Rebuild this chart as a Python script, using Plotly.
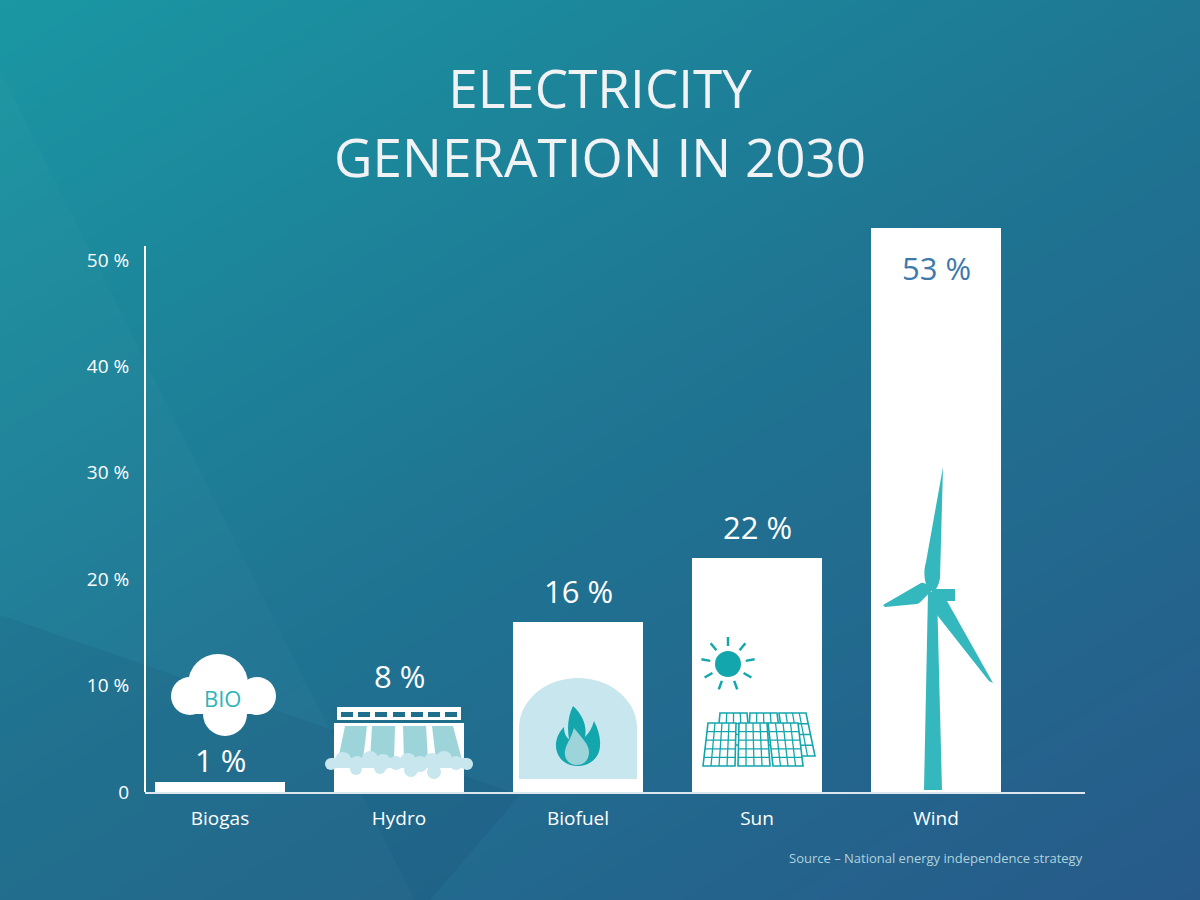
import math
import plotly.graph_objects as go

# data
sources = ["Biogas", "Hydro", "Biofuel", "Sun", "Wind"]
share = [1, 8, 16, 22, 53]
ytick_vals = [0, 10, 20, 30, 40, 50]
ytick_text = ["0", "10 %", "20 %", "30 %", "40 %", "50 %"]

W, H = 1200, 900
FONT = "Open Sans"
TEAL = "#13a6ad"
LIGHT = "#9dd4da"
PALE = "#c8e6ee"
GAPCOL = "#1f6e8c"

# pixel geometry of the plot area (x: category centres 179px apart, y: 10.64px per %)
X0, X1 = 145, 1085
YB = 792
XS, YS = 179.0, 10.64
xr = [-(220 - X0) / XS, (X1 - 220) / XS]
yr = [0, 55]
ytop = YB - yr[1] * YS


def px(i, dx):
    # offset in px from centre of bar i -> x data
    return i + dx / XS


def py(dy):
    # px above the baseline -> y data
    return dy / YS


def pt(i, x, y):
    return px(i, x), py(YB - y)


centres = [220, 399, 578, 757, 936]

fig = go.Figure()

# background gradient on a full-page hidden subplot
fig.add_trace(go.Heatmap(
    x=[0, 1], y=[0, 1], z=[[0.55, 1.0], [0.0, 0.45]],
    zsmooth="best", showscale=False, hoverinfo="skip",
    colorscale=[[0, "#1a97a3"], [0.5, "#1f7492"], [1, "#275a89"]],
    xaxis="x", yaxis="y",
))


def bgpoly(pts, color):
    fig.add_trace(go.Scatter(
        x=[p[0] / W for p in pts] + [pts[0][0] / W],
        y=[1 - p[1] / H for p in pts] + [1 - pts[0][1] / H],
        fill="toself", fillcolor=color, mode="lines", line=dict(width=0),
        hoverinfo="skip", showlegend=False, xaxis="x", yaxis="y",
    ))


bgpoly([(0, 615), (520, 795), (430, 900), (0, 900)], "rgba(10,40,80,0.08)")
bgpoly([(0, 70), (215, 500), (415, 900), (0, 900)], "rgba(255,255,255,0.02)")

# bars
fig.add_trace(go.Bar(
    x=list(range(len(sources))), y=share, width=130 / XS,
    marker=dict(color="white", line=dict(width=0)),
    xaxis="x2", yaxis="y2", hoverinfo="skip", showlegend=False,
))

shapes = []


def rect(i, xa, ya, xb, yb, color):
    (a, b), (c, d) = pt(i, xa, ya), pt(i, xb, yb)
    shapes.append(dict(type="rect", xref="x2", yref="y2", x0=a, y0=b, x1=c, y1=d,
                       fillcolor=color, line=dict(width=0)))


def circ(i, cx, cy, r, color, ry=None):
    ry = ry or r
    (a, b), (c, d) = pt(i, cx - r, cy - ry), pt(i, cx + r, cy + ry)
    shapes.append(dict(type="circle", xref="x2", yref="y2", x0=a, y0=b, x1=c, y1=d,
                       fillcolor=color, line=dict(width=0)))


def path(i, cmds, fill=None, line=None, lw=0):
    s = ""
    for c in cmds:
        if c[0] == "Z":
            s += " Z"
            continue
        op, coords = c[0], c[1:]
        parts = []
        for k in range(0, len(coords), 2):
            x, y = pt(i, coords[k], coords[k + 1])
            parts.append(f"{x:.5f},{y:.5f}")
        s += f" {op} " + " ".join(parts)
    d = dict(type="path", xref="x2", yref="y2", path=s.strip(),
             line=dict(width=lw, color=line or "rgba(0,0,0,0)"))
    if fill:
        d["fillcolor"] = fill
    shapes.append(d)


def rel(i, x):
    return x - centres[i]


# Biogas cloud
i = 0
for cx, cy, r in [(218, 684, 30), (190, 696, 19), (257, 696, 19), (225, 714, 22)]:
    circ(i, rel(i, cx), cy, r, "white")
rect(i, rel(i, 190), 690, rel(i, 257), 714, "white")

# Hydro dam
i = 1
rect(i, rel(i, 332), 720, rel(i, 467), 723, GAPCOL)
rect(i, rel(i, 332), 706, rel(i, 337), 723, GAPCOL)
rect(i, rel(i, 461), 706, rel(i, 467), 723, GAPCOL)
for sx in [347, 364, 381, 399, 417, 434, 451]:
    rect(i, rel(i, sx - 6), 712, rel(i, sx + 6), 717, GAPCOL)
for (ta, tb, ba, bb) in [(345, 367, 338, 363), (372, 395, 370, 394),
                         (403, 426, 404, 428), (432, 453, 436, 462)]:
    path(i, [("M", rel(i, ta), 726), ("L", rel(i, tb), 726), ("L", rel(i, bb), 760),
             ("L", rel(i, ba), 760), ("Z",)], fill=LIGHT)
rect(i, rel(i, 331), 758, rel(i, 468), 768, PALE)
for cx, cy, r in [(331, 764, 6), (343, 760, 8), (357, 763, 7), (370, 759, 8), (383, 762, 8),
                  (396, 763, 7), (408, 761, 8), (420, 764, 8), (432, 761, 8), (444, 759, 8),
                  (456, 763, 7), (467, 764, 6), (411, 770, 7), (434, 772, 7), (356, 769, 6),
                  (380, 768, 6)]:
    circ(i, rel(i, cx), cy, r, PALE)

# Biofuel arch + flame
i = 2
circ(i, rel(i, 578), 728, 59, PALE, ry=50)
rect(i, rel(i, 519), 728, rel(i, 637), 779, PALE)
path(i, [("M", rel(i, 578), 766),
         ("C", rel(i, 563), 766, rel(i, 555), 755, rel(i, 556), 743),
         ("C", rel(i, 557), 735, rel(i, 561), 730, rel(i, 564), 727),
         ("C", rel(i, 564), 733, rel(i, 566), 737, rel(i, 569), 739),
         ("C", rel(i, 567), 728, rel(i, 568), 716, rel(i, 573), 706),
         ("C", rel(i, 584), 716, rel(i, 587), 728, rel(i, 585), 737),
         ("C", rel(i, 589), 733, rel(i, 592), 728, rel(i, 594), 721),
         ("C", rel(i, 601), 734, rel(i, 602), 748, rel(i, 597), 756),
         ("C", rel(i, 593), 762, rel(i, 586), 766, rel(i, 578), 766), ("Z",)], fill=TEAL)
path(i, [("M", rel(i, 577), 765),
         ("C", rel(i, 568), 765, rel(i, 564), 758, rel(i, 565), 751),
         ("C", rel(i, 566), 744, rel(i, 571), 739, rel(i, 574), 728),
         ("C", rel(i, 581), 737, rel(i, 589), 744, rel(i, 589), 752),
         ("C", rel(i, 589), 760, rel(i, 584), 765, rel(i, 577), 765), ("Z",)], fill=LIGHT)

# Sun + solar panels
i = 3
off = centres[i] - 762
sc = (733 + off, 664)
circ(i, rel(i, sc[0]), sc[1], 13, TEAL)
for k in range(9):
    a = math.radians(90 - 40 * k)
    x1, y1 = sc[0] + 18 * math.cos(a), sc[1] - 18 * math.sin(a)
    x2, y2 = sc[0] + 27 * math.cos(a), sc[1] - 27 * math.sin(a)
    path(i, [("M", rel(i, x1), y1), ("L", rel(i, x2), y2)], line=TEAL, lw=2.5)

panels = [
    ((725, 713), (752, 713), (755, 745), (722, 745), 4, 3),
    ((755, 713), (782, 713), (786, 745), (753, 745), 4, 3),
    ((784, 713), (811, 713), (820, 756), (790, 756), 4, 4),
    ((713, 723), (741, 723), (740, 766), (708, 766), 4, 5),
    ((744, 723), (772, 723), (775, 766), (743, 766), 4, 5),
    ((773, 723), (803, 723), (808, 766), (778, 766), 4, 5),
]


def lerp(p, q, t):
    return (p[0] + (q[0] - p[0]) * t, p[1] + (q[1] - p[1]) * t)


for tl, tr, br, bl, nc, nr in panels:
    tl, tr, br, bl = [(p[0] + off, p[1]) for p in (tl, tr, br, bl)]
    path(i, [("M", rel(i, tl[0]), tl[1]), ("L", rel(i, tr[0]), tr[1]),
             ("L", rel(i, br[0]), br[1]), ("L", rel(i, bl[0]), bl[1]), ("Z",)],
         fill="white", line=TEAL, lw=1.6)
    cmds = []
    for c in range(1, nc):
        a, b = lerp(tl, tr, c / nc), lerp(bl, br, c / nc)
        cmds += [("M", rel(i, a[0]), a[1]), ("L", rel(i, b[0]), b[1])]
    for r in range(1, nr):
        a, b = lerp(tl, bl, r / nr), lerp(tr, br, r / nr)
        cmds += [("M", rel(i, a[0]), a[1]), ("L", rel(i, b[0]), b[1])]
    path(i, cmds, line=TEAL, lw=1.3)

# Wind turbine
i = 4
WT = "#35b8bd"
path(i, [("M", rel(i, 924), 790), ("L", rel(i, 942), 790), ("L", rel(i, 937), 592),
         ("L", rel(i, 928), 592), ("Z",)], fill=WT)
rect(i, rel(i, 932), 589, rel(i, 955), 601, WT)
path(i, [("M", rel(i, 930), 592), ("C", rel(i, 924), 584, rel(i, 923), 572, rel(i, 926), 562),
         ("L", rel(i, 943), 467), ("L", rel(i, 940), 578),
         ("C", rel(i, 939), 584, rel(i, 937), 588, rel(i, 935), 590), ("Z",)], fill=WT)
path(i, [("M", rel(i, 930), 589), ("C", rel(i, 927), 584, rel(i, 924), 582, rel(i, 921), 583),
         ("L", rel(i, 883), 605), ("L", rel(i, 885), 607), ("L", rel(i, 917), 604),
         ("C", rel(i, 921), 603, rel(i, 923), 598, rel(i, 930), 593), ("Z",)], fill=WT)
path(i, [("M", rel(i, 937), 600), ("L", rel(i, 947), 601), ("L", rel(i, 993), 683),
         ("L", rel(i, 989), 681), ("L", rel(i, 937), 615), ("Z",)], fill=WT)

# y axis line
shapes.append(dict(type="line", xref="paper", yref="y2", x0=X0 / W, x1=X0 / W,
                   y0=0, y1=(YB - 246) / YS, line=dict(color="white", width=2)))

annotations = []
for k, v in enumerate(share):
    if k == len(share) - 1:
        annotations.append(dict(x=k, y=v, xref="x2", yref="y2", text=f"{v} %",
                                showarrow=False, yanchor="middle", yshift=-40,
                                font=dict(family=FONT, size=31, color="#3d7aab")))
    else:
        annotations.append(dict(x=k, y=v, xref="x2", yref="y2", text=f"{v} %",
                                showarrow=False, yanchor="middle",
                                yshift=21 if k == 0 else 31,
                                font=dict(family=FONT, size=31, color="white")))

annotations.append(dict(x=px(0, 2), y=py(YB - 698), xref="x2", yref="y2", text="BIO",
                        showarrow=False, font=dict(family=FONT, size=22, color="#2bb5b8")))
annotations.append(dict(x=X1 / W, y=1 - 858 / H, xref="paper", yref="paper",
                        xanchor="right", yanchor="middle", showarrow=False,
                        text="Source – National energy independence strategy",
                        font=dict(family=FONT, size=13, color="#b0d2de")))
annotations.append(dict(x=0.5, y=1 - 122 / H, xref="paper", yref="paper",
                        xanchor="center", yanchor="middle", showarrow=False,
                        text="ELECTRICITY<br>GENERATION IN 2030",
                        font=dict(family=FONT, size=53, color="#f0f2f4")))

fig.update_layout(
    width=W, height=H,
    margin=dict(l=0, r=0, t=0, b=0, pad=0, autoexpand=False),
    paper_bgcolor="#275a89",
    plot_bgcolor="rgba(0,0,0,0)",
    showlegend=False,
    font=dict(family=FONT, color="white"),
    xaxis=dict(domain=[0, 1], range=[0, 1], visible=False, fixedrange=True, automargin=False),
    yaxis=dict(domain=[0, 1], range=[0, 1], visible=False, fixedrange=True, automargin=False),
    xaxis2=dict(domain=[X0 / W, X1 / W], anchor="y2", range=xr, automargin=False,
                tickvals=list(range(len(sources))), ticktext=sources,
                showgrid=False, zeroline=False, showline=True,
                linecolor="#dce7ed", linewidth=2,
                ticks="outside", ticklen=8, tickcolor="rgba(0,0,0,0)",
                tickfont=dict(family=FONT, size=19, color="white")),
    yaxis2=dict(domain=[(H - YB) / H, (H - ytop) / H], anchor="x2", range=yr, automargin=False,
                tickvals=ytick_vals, ticktext=ytick_text,
                showgrid=False, zeroline=False, showline=False,
                ticks="outside", ticklen=11, tickcolor="rgba(0,0,0,0)",
                tickfont=dict(family=FONT, size=19, color="white")),
    shapes=shapes,
    annotations=annotations,
    bargap=0,
)

fig.write_html(
    "out.html",
    config={"displayModeBar": False},
    post_script=("document.documentElement.style.overflow='hidden';"
                 "document.body.style.margin='0';"
                 "document.body.style.overflow='hidden';"),
)
